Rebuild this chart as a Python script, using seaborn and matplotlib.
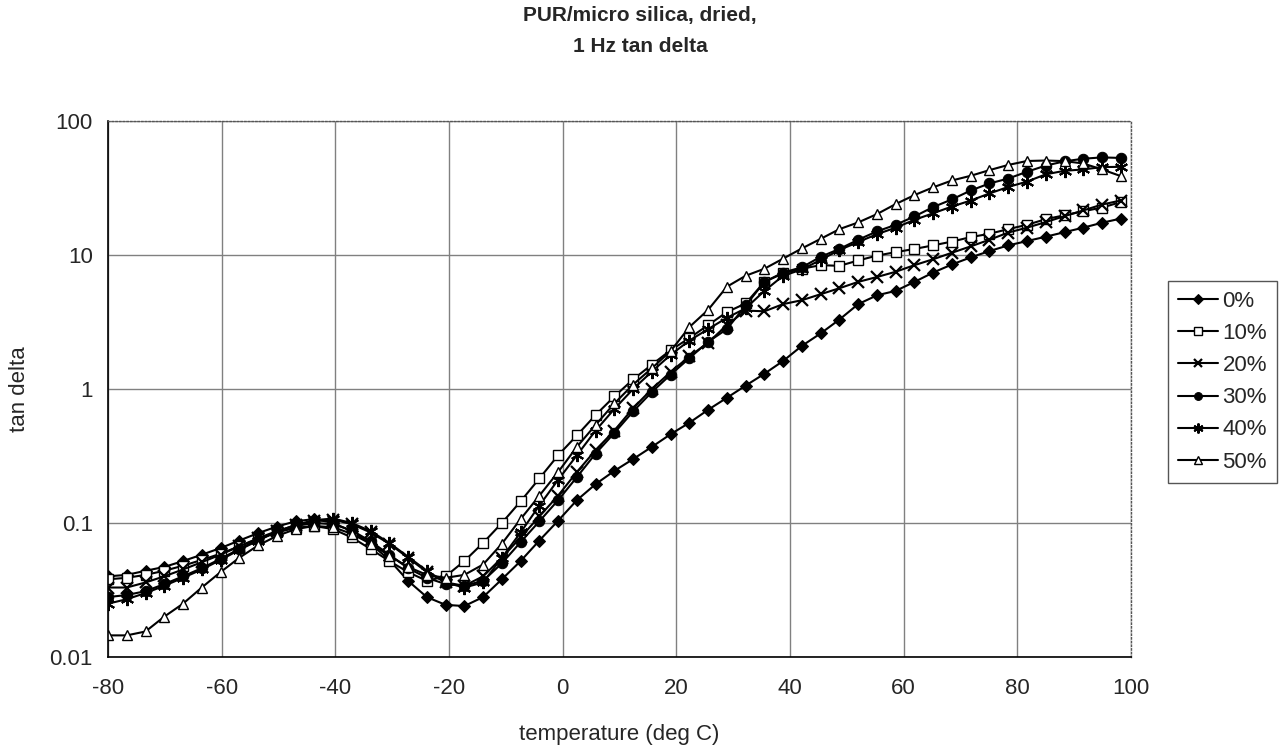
import matplotlib
matplotlib.use("Agg")
import matplotlib.pyplot as plt
import seaborn as sns
import pandas as pd

# ---------------- data ----------------
temps = [-80.0, -76.7, -73.4, -70.1, -66.8, -63.5, -60.2, -56.9, -53.6, -50.3,
         -47.0, -43.7, -40.4, -37.1, -33.8, -30.5, -27.2, -23.9, -20.6, -17.3,
         -14.0, -10.7, -7.4, -4.1, -0.8, 2.5, 5.8, 9.1, 12.4, 15.7,
         19.0, 22.3, 25.6, 28.9, 32.2, 35.5, 38.8, 42.1, 45.4, 48.7,
         52.0, 55.3, 58.6, 61.9, 65.2, 68.5, 71.8, 75.1, 78.4, 81.7,
         85.0, 88.3, 91.6, 94.9, 98.2]

s0 = [0.040, 0.041, 0.044, 0.047, 0.052, 0.058, 0.065, 0.074, 0.084, 0.094,
      0.103, 0.107, 0.100, 0.087, 0.070, 0.053, 0.037, 0.028, 0.0245, 0.024,
      0.028, 0.038, 0.052, 0.074, 0.104, 0.148, 0.195, 0.245, 0.30, 0.37,
      0.46, 0.56, 0.70, 0.86, 1.06, 1.30, 1.62, 2.10, 2.60, 3.30,
      4.30, 5.00, 5.40, 6.30, 7.40, 8.50, 9.60, 10.7, 11.8, 12.7,
      13.7, 14.8, 16.0, 17.4, 18.7]

s10 = [0.038, 0.039, 0.041, 0.044, 0.048, 0.053, 0.059, 0.067, 0.076, 0.085,
       0.092, 0.095, 0.090, 0.078, 0.064, 0.052, 0.043, 0.037, 0.040, 0.052,
       0.071, 0.100, 0.145, 0.215, 0.32, 0.45, 0.64, 0.88, 1.18, 1.52,
       1.95, 2.40, 3.00, 3.75, 4.35, 6.30, 7.30, 7.90, 8.40, 8.30,
       9.10, 9.90, 10.5, 11.1, 11.8, 12.6, 13.6, 14.4, 15.6, 16.8,
       18.5, 19.8, 21.2, 22.6, 24.8]

s20 = [0.033, 0.033, 0.036, 0.040, 0.045, 0.051, 0.058, 0.067, 0.077, 0.087,
       0.096, 0.103, 0.106, 0.098, 0.085, 0.070, 0.055, 0.043, 0.036, 0.034,
       0.040, 0.055, 0.078, 0.112, 0.160, 0.240, 0.35, 0.49, 0.72, 1.00,
       1.34, 1.75, 2.22, 3.00, 3.85, 3.80, 4.30, 4.60, 5.10, 5.65,
       6.30, 6.85, 7.50, 8.40, 9.30, 10.4, 11.6, 13.0, 14.7, 16.0,
       17.6, 19.5, 21.5, 23.8, 25.5]

s30 = [0.028, 0.029, 0.031, 0.035, 0.040, 0.046, 0.054, 0.064, 0.075, 0.086,
       0.095, 0.100, 0.098, 0.088, 0.073, 0.058, 0.046, 0.039, 0.035, 0.034,
       0.037, 0.050, 0.072, 0.103, 0.148, 0.22, 0.33, 0.47, 0.68, 0.95,
       1.28, 1.70, 2.25, 2.80, 4.20, 6.30, 7.40, 8.10, 9.70, 11.1,
       13.0, 15.0, 16.8, 19.4, 22.8, 26.0, 30.3, 34.2, 37.2, 41.8,
       46.5, 50.0, 52.3, 53.5, 53.0]

s40 = [0.025, 0.027, 0.030, 0.034, 0.039, 0.045, 0.053, 0.063, 0.074, 0.086,
       0.097, 0.105, 0.108, 0.100, 0.087, 0.071, 0.056, 0.044, 0.036, 0.033,
       0.036, 0.055, 0.085, 0.135, 0.21, 0.32, 0.49, 0.71, 1.00, 1.35,
       1.80, 2.30, 2.80, 3.40, 4.00, 5.40, 7.00, 7.80, 9.20, 10.9,
       12.5, 14.3, 16.0, 18.3, 20.5, 23.0, 25.5, 28.8, 32.2, 35.3,
       40.0, 42.5, 43.5, 45.3, 45.5]

s50 = [0.0145, 0.0145, 0.0155, 0.020, 0.025, 0.033, 0.043, 0.055, 0.068, 0.080,
       0.090, 0.095, 0.093, 0.083, 0.070, 0.057, 0.047, 0.041, 0.039, 0.041,
       0.049, 0.070, 0.107, 0.160, 0.24, 0.37, 0.54, 0.78, 1.08, 1.43,
       1.92, 2.90, 3.90, 5.80, 7.00, 7.90, 9.40, 11.2, 13.2, 15.6,
       17.5, 20.2, 24.0, 28.0, 32.0, 36.0, 39.0, 43.0, 47.0, 50.3,
       50.7, 50.2, 48.2, 43.5, 38.8]

series_names = ["0%", "10%", "20%", "30%", "40%", "50%"]
series_values = [s0, s10, s20, s30, s40, s50]

x_ticks = [-80, -60, -40, -20, 0, 20, 40, 60, 80, 100]
y_ticks = [0.01, 0.1, 1, 10, 100]
y_tick_labels = ["0.01", "0.1", "1", "10", "100"]

# ---------------- styles ----------------
marker_styles = {
    "0%":  dict(marker="D", markersize=6.5, markerfacecolor="black", markeredgecolor="black"),
    "10%": dict(marker="s", markersize=7.5, markerfacecolor="white", markeredgecolor="black", markeredgewidth=1.0),
    "20%": dict(marker="x", markersize=8.5, markeredgecolor="black", markeredgewidth=1.6),
    "30%": dict(marker="o", markersize=7.5, markerfacecolor="black", markeredgecolor="black"),
    "40%": dict(marker=(6, 2, 0), markersize=9.5, markeredgecolor="black", markeredgewidth=1.5),
    "50%": dict(marker="^", markersize=7.5, markerfacecolor="white", markeredgecolor="black", markeredgewidth=1.0),
}

sns.set_style("white")
plt.rcParams["font.family"] = ["Liberation Sans", "DejaVu Sans"]

fig = plt.figure(figsize=(12.8, 7.5), dpi=100)
ax = fig.add_axes([108 / 1280, 1 - 657 / 750, (1131 - 108) / 1280, (657 - 121) / 750])

frames = []
for name, vals in zip(series_names, series_values):
    frames.append(pd.DataFrame({"temperature": temps, "tan_delta": vals, "series": name}))
df = pd.concat(frames, ignore_index=True)

for name in series_names:
    sub = df[df["series"] == name]
    sns.lineplot(data=sub, x="temperature", y="tan_delta", ax=ax, color="black",
                 linewidth=1.5, label=name, estimator=None, sort=False,
                 **marker_styles[name])

ax.set_yscale("log")
ax.set_xlim(-80, 100)
ax.set_ylim(0.01, 100)
ax.set_xticks(x_ticks)
ax.set_xticklabels([str(v) for v in x_ticks])
ax.set_yticks(y_ticks)
ax.set_yticklabels(y_tick_labels)
ax.minorticks_off()
ax.tick_params(axis="both", labelsize=16, length=5, width=1, direction="out",
               color="black")
ax.tick_params(axis="x", pad=10)
ax.tick_params(axis="y", pad=6)

ax.grid(True, which="major", color="#808080", linewidth=1.0, linestyle="-")
ax.set_axisbelow(True)
for side in ["left", "bottom"]:
    ax.spines[side].set_color("black")
    ax.spines[side].set_linewidth(1.2)
for side in ["top", "right"]:
    ax.spines[side].set_color("#555555")
    ax.spines[side].set_linewidth(1.0)
    ax.spines[side].set_linestyle(":")

ax.set_xlabel("temperature (deg C)", fontsize=16, labelpad=18)
ax.set_ylabel("tan delta", fontsize=16, labelpad=14)

fig.text(0.5, 1 - 16 / 750, "PUR/micro silica, dried,", ha="center", va="center",
         fontsize=15, fontweight="bold")
fig.text(0.5, 1 - 46 / 750, "1 Hz tan delta", ha="center", va="center",
         fontsize=15, fontweight="bold")

leg = ax.legend(loc="upper left", bbox_to_anchor=(1168 / 1280, 1 - 281 / 750),
                bbox_transform=fig.transFigure, fontsize=16, frameon=True,
                fancybox=False, edgecolor="#555555", framealpha=1,
                handlelength=1.8, handletextpad=0.2, labelspacing=0.5,
                borderpad=0.45, borderaxespad=0)
leg.get_frame().set_linewidth(1.0)
for h in leg.legend_handles:
    h.set_markersize(h.get_markersize() * 0.75)

fig.savefig("out.png", dpi=100)
